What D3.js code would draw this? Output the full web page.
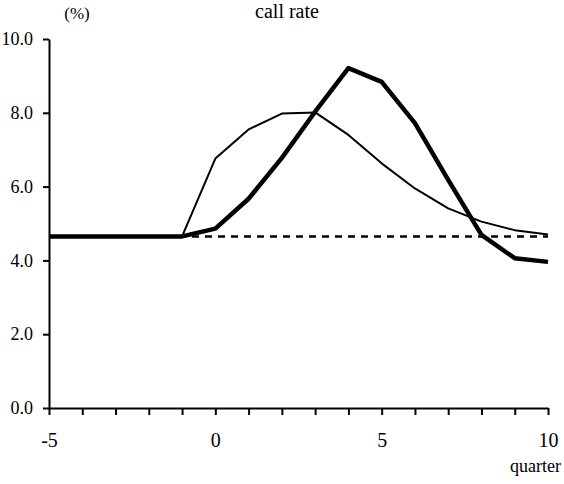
<!DOCTYPE html>
<html>
<head>
<meta charset="utf-8">
<script src="https://cdn.jsdelivr.net/npm/d3@7"></script>
<style>
	body { margin: 0; background: #fff; }
</style>
</head>
<body>
<script>
// quarters relative to the shock
var quarters = [-5, -4, -3, -2, -1, 0, 1, 2, 3, 4, 5, 6, 7, 8, 9, 10];
// thick line
var seriesA = [4.65, 4.65, 4.65, 4.65, 4.65, 4.86, 5.67, 6.78, 8.03, 9.21, 8.84, 7.72, 6.18, 4.69, 4.06, 3.96];
// thin line
var seriesB = [4.65, 4.65, 4.65, 4.65, 4.65, 6.76, 7.55, 7.98, 8.01, 7.40, 6.63, 5.95, 5.41, 5.05, 4.82, 4.70];
// dashed baseline
var baseline = [4.65, 4.65, 4.65, 4.65, 4.65, 4.65, 4.65, 4.65, 4.65, 4.65, 4.65, 4.65, 4.65, 4.65, 4.65, 4.65];
var yTicks = [0, 2, 4, 6, 8, 10];
var xLabels = [-5, 0, 5, 10];

var width = 564, height = 484;
var margin = { top: 39, right: 16, bottom: 76, left: 49 };
var serif = "'Liberation Serif', 'Times New Roman', Times, serif";

var svg = d3.select("body").append("svg")
	.attr("width", width)
	.attr("height", height)
	.style("font-family", serif);

// scales
var x = d3.scaleLinear()
	.domain([-5, 10])
	.range([margin.left, width - margin.right]);
var y = d3.scaleLinear()
	.domain([0, 10])
	.range([height - margin.bottom, margin.top]);

// x axis: ticks every quarter, labels every 5
var xAxis = svg.append("g")
	.attr("transform", "translate(0," + y(0) + ")")
	.call(d3.axisBottom(x).tickValues(quarters).tickSize(7).tickSizeOuter(0)
		.tickFormat(function(d) { return xLabels.indexOf(d) >= 0 ? d : ""; }));
xAxis.attr("font-family", null);
xAxis.select(".domain").attr("stroke-width", 2);
xAxis.selectAll(".tick line").attr("stroke-width", 2);
xAxis.selectAll(".tick text")
	.attr("y", 25)
	.style("font-family", serif)
	.style("font-size", "20px");

// y axis
var yAxis = svg.append("g")
	.attr("transform", "translate(" + x(-5) + ",0)")
	.call(d3.axisLeft(y).tickValues(yTicks).tickSize(6).tickSizeOuter(0)
		.tickFormat(d3.format(".1f")));
yAxis.attr("font-family", null);
yAxis.select(".domain").attr("stroke-width", 2);
yAxis.selectAll(".tick line").attr("stroke-width", 2);
yAxis.selectAll(".tick text")
	.attr("x", -16)
	.style("font-family", serif)
	.style("font-size", "18px");

var line = d3.line()
	.x(function(d, i) { return x(quarters[i]); })
	.y(function(d) { return y(d); });

// dashed baseline
svg.append("path")
	.datum(baseline)
	.attr("d", line)
	.attr("fill", "none")
	.attr("stroke", "#000")
	.attr("stroke-width", 2.5)
	.attr("stroke-dasharray", "7,6");

// thin line
svg.append("path")
	.datum(seriesB)
	.attr("d", line)
	.attr("fill", "none")
	.attr("stroke", "#000")
	.attr("stroke-width", 2)
	.attr("stroke-linejoin", "round");

// thick line
svg.append("path")
	.datum(seriesA)
	.attr("d", line)
	.attr("fill", "none")
	.attr("stroke", "#000")
	.attr("stroke-width", 4.5)
	.attr("stroke-linejoin", "round");

// labels
svg.append("text")
	.attr("x", 77).attr("y", 19)
	.attr("text-anchor", "middle")
	.style("font-family", serif)
	.style("font-size", "17px")
	.text("(%)");

svg.append("text")
	.attr("x", 287).attr("y", 18)
	.attr("text-anchor", "middle")
	.style("font-family", serif)
	.style("font-size", "20px")
	.text("call rate");

svg.append("text")
	.attr("x", 561).attr("y", 472)
	.attr("text-anchor", "end")
	.style("font-family", serif)
	.style("font-size", "18px")
	.text("quarter");
</script>
</body>
</html>
